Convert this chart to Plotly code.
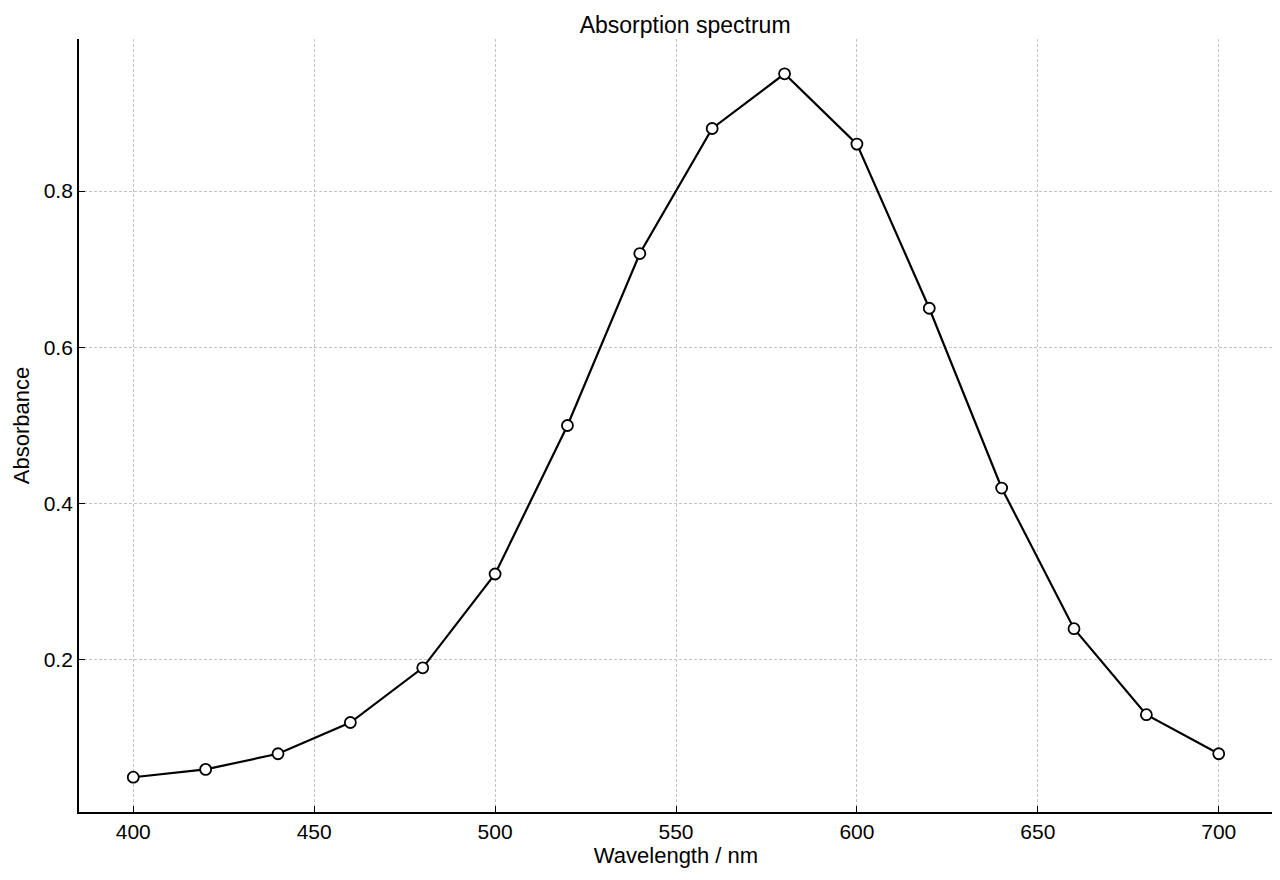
import plotly.graph_objects as go

wavelength = [400, 420, 440, 460, 480, 500, 520, 540, 560, 580, 600, 620, 640, 660, 680, 700]
absorbance = [0.05, 0.06, 0.08, 0.12, 0.19, 0.31, 0.50, 0.72, 0.88, 0.95, 0.86, 0.65, 0.42, 0.24, 0.13, 0.08]

fig = go.Figure()
fig.add_trace(go.Scatter(
    x=wavelength, y=absorbance, mode="lines+markers",
    line=dict(color="black", width=2.2),
    marker=dict(size=11, color="white", line=dict(color="black", width=1.8)),
))

axis_style = dict(
    showline=True, linecolor="black", linewidth=1.8, mirror=False,
    ticks="inside", ticklen=6, tickcolor="black",
    showgrid=True, gridcolor="#c4c4c4", griddash="3px,2px", gridwidth=1,
    zeroline=False, tickfont=dict(size=21, color="black"),
)
fig.update_xaxes(range=[385, 715], tickvals=[400, 450, 500, 550, 600, 650, 700],
                 title=dict(text="Wavelength / nm", font=dict(size=22, color="black"), standoff=6),
                 **axis_style)
fig.update_yaxes(range=[0.0055, 0.9945], tickvals=[0.2, 0.4, 0.6, 0.8],
                 tickformat=".1f",
                 title=dict(text="Absorbance", font=dict(size=22, color="black"), standoff=8),
                 **axis_style)

fig.update_layout(
    width=1280, height=880,
    margin=dict(l=71, r=15, t=31, b=76),
    plot_bgcolor="white", paper_bgcolor="white",
    font=dict(family="Liberation Sans, Arial, sans-serif", color="black"),
    title=dict(text="Absorption spectrum", x=0.529, xanchor="center", y=0.99, yanchor="top",
               font=dict(size=23, color="black")),
    showlegend=False,
)

fig.write_html("out.html")
